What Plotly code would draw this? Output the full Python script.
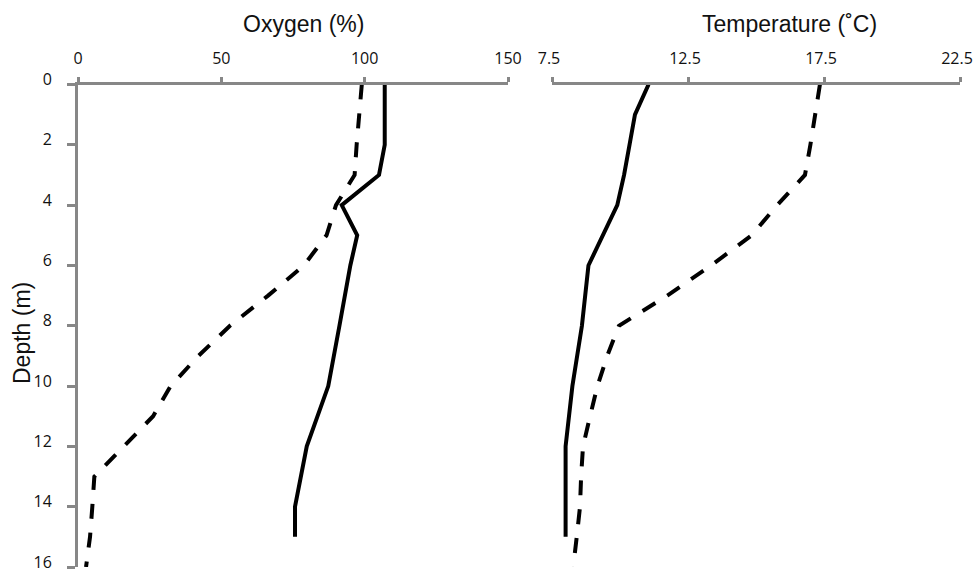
import plotly.graph_objects as go

# ---- data ----
oxy_solid_depth = [0, 1, 2, 3, 4, 5, 6, 8, 10, 12, 14, 15]
oxy_solid = [107, 107, 107, 105, 92, 97.4, 95, 91.2, 87.3, 79.8, 75.7, 75.7]

oxy_dash_depth = [0, 1, 2, 3, 4, 5, 6, 7, 8, 9, 10, 11, 12, 13, 14, 15, 16]
oxy_dash = [99, 98, 97.2, 96.5, 90, 86.7, 78.8, 66.3, 53, 42, 32.3, 26.2, 15.8, 5.7, 5.0, 4.2, 2.8]

temp_solid_depth = [0, 1, 2, 3, 4, 5, 6, 8, 10, 12, 14, 15]
temp_solid = [11.05, 10.55, 10.35, 10.15, 9.9, 9.36, 8.84, 8.6, 8.25, 8.0, 8.0, 8.0]

temp_dash_depth = [0, 1, 2, 3, 4, 5, 6, 7, 8, 9, 10, 11, 12, 13, 14, 15, 16]
temp_dash = [17.35, 17.18, 17.0, 16.8, 15.78, 14.84, 13.35, 11.74, 9.96, 9.53, 9.17, 8.9, 8.64, 8.57, 8.53, 8.41, 8.28]

oxy_ticks = [0, 50, 100, 150]
temp_ticks = [7.5, 12.5, 17.5, 22.5]
depth_ticks = [0, 2, 4, 6, 8, 10, 12, 14, 16]

W, H = 974, 574
AXC = "#878787"
LW = 4
DASH = "15px,14px"

fig = go.Figure()
fig.add_trace(go.Scatter(x=oxy_solid, y=oxy_solid_depth, mode="lines",
                         line=dict(color="black", width=LW), xaxis="x", yaxis="y"))
fig.add_trace(go.Scatter(x=oxy_dash, y=oxy_dash_depth, mode="lines",
                         line=dict(color="black", width=LW, dash=DASH), xaxis="x", yaxis="y"))
fig.add_trace(go.Scatter(x=temp_solid, y=temp_solid_depth, mode="lines",
                         line=dict(color="black", width=LW), xaxis="x2", yaxis="y2"))
fig.add_trace(go.Scatter(x=temp_dash, y=temp_dash_depth, mode="lines",
                         line=dict(color="black", width=LW, dash=DASH), xaxis="x2", yaxis="y2"))

y_top = 84.5
y_bot = 567
ydom = [1 - y_bot / H, 1 - y_top / H]

tickfont = dict(family="Open Sans", size=16, color="#111")
common_x = dict(side="top", showline=True, linecolor=AXC, linewidth=3,
                ticks="outside", tickcolor=AXC, tickwidth=2.5, ticklen=5,
                showgrid=False, zeroline=False, tickfont=tickfont,
                ticklabelstandoff=6, ticklabeloverflow="allow",
                automargin=False, fixedrange=True)

fig.update_layout(
    width=W, height=H,
    margin=dict(l=0, r=0, t=0, b=0, autoexpand=False),
    paper_bgcolor="white", plot_bgcolor="white",
    showlegend=False,
    xaxis=dict(domain=[78 / W, 508 / W], range=[0, 150], tickvals=oxy_ticks,
               ticktext=[str(v) for v in oxy_ticks], anchor="y", **common_x),
    xaxis2=dict(domain=[552 / W, 960 / W], range=[7.5, 22.5], tickvals=temp_ticks,
                ticktext=[str(v) for v in temp_ticks], anchor="y2",
                ticklabelshift=-3, **common_x),
    yaxis=dict(domain=ydom, range=[16, 0], tickvals=depth_ticks,
               ticktext=[str(v) for v in depth_ticks], anchor="x",
               showline=True, linecolor=AXC, linewidth=3, ticks="outside",
               tickcolor=AXC, tickwidth=2.5, ticklen=8, showgrid=False,
               zeroline=False, tickfont=tickfont, ticklabelstandoff=12,
               ticklabelshift=5,
               ticklabeloverflow="allow", automargin=False),
    yaxis2=dict(domain=ydom, range=[16, 0], anchor="x2", visible=False, automargin=False),
)

titlefont = dict(family="Liberation Sans", size=23, color="#111")
fig.add_annotation(text="Oxygen (%)", x=303 / W, y=1 - 24 / H, xref="paper", yref="paper",
                   showarrow=False, font=titlefont, xanchor="center", yanchor="middle")
fig.add_annotation(text="Temperature (˚C)", x=789 / W, y=1 - 24 / H, xref="paper", yref="paper",
                   showarrow=False, font=titlefont, xanchor="center", yanchor="middle")
fig.add_annotation(text="Depth (m)", x=22 / W, y=1 - 333 / H, xref="paper", yref="paper",
                   showarrow=False, font=titlefont, textangle=-90,
                   xanchor="center", yanchor="middle")

fig.write_html("out.html")
